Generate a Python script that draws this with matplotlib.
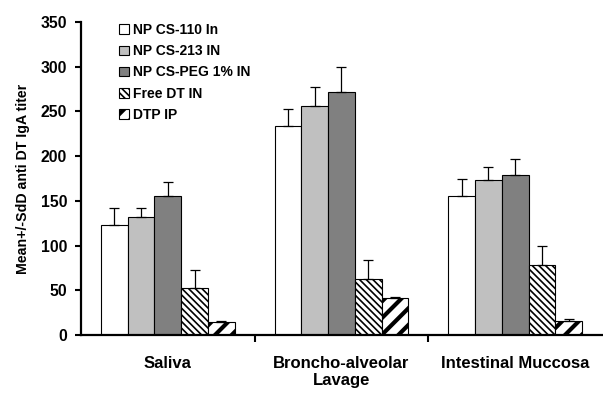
import matplotlib
matplotlib.use('Agg')
import matplotlib.pyplot as plt
import numpy as np

plt.rcParams['font.family'] = ['Liberation Sans', 'DejaVu Sans']
plt.rcParams['font.weight'] = 'bold'

categories = ['Saliva', 'Broncho-alveolar\nLavage', 'Intestinal Muccosa']
series = ['NP CS-110 In', 'NP CS-213 IN', 'NP CS-PEG 1% IN', 'Free DT IN', 'DTP IP']
cs110 = [123, 234, 155.5]
cs110_sd = [19, 19, 19.5]
cs213 = [131.5, 256, 173.5]
cs213_sd = [10.5, 21, 14.5]
cspeg = [155.5, 271.5, 178.5]
cspeg_sd = [15.5, 28.5, 18.5]
free_dt = [52.5, 63, 78.5]
free_dt_sd = [20.5, 21, 21]
dtp_ip = [14.5, 41, 15.5]
dtp_ip_sd = [1, 2, 2]

values = [cs110, cs213, cspeg, free_dt, dtp_ip]
sds = [cs110_sd, cs213_sd, cspeg_sd, free_dt_sd, dtp_ip_sd]
colors = ['white', '#C0C0C0', '#808080', 'white', 'white']
hatches = [None, None, None, '\\\\\\\\\\', '//']
hatch_lw = [1.0, 1.0, 1.0, 1.2, 3.0]

fig = plt.figure(figsize=(6.03, 3.94), dpi=100)
ax = fig.add_axes([81/603, 59/394, 521/603, 313/394])

x = np.arange(len(categories))
w = 0.154
handles = []
for i in range(5):
    plt.rcParams['hatch.linewidth'] = hatch_lw[i]
    pos = x + (i - 2) * w
    bars = ax.bar(pos, values[i], w, color=colors[i], edgecolor='black',
                  linewidth=0.8, hatch=hatches[i], label=series[i], zorder=2)
    handles.append(bars)
    ax.errorbar(pos, values[i], yerr=[np.zeros(3), sds[i]], fmt='none',
                ecolor='black', elinewidth=0.9, capsize=3.5, capthick=0.9, zorder=3)

ax.set_xlim(-0.5, 2.5)
ax.set_ylim(0, 350)
ax.set_yticks(range(0, 351, 50))
ax.set_xticks(x)
ax.set_xticklabels(categories, fontsize=12, fontweight='bold')
ax.set_xticks([0.5, 1.5], minor=True)
ax.tick_params(axis='x', which='major', length=0, pad=15)
ax.tick_params(axis='x', which='minor', length=5, width=1.5, direction='out')
ax.tick_params(axis='y', length=4.5, width=1.5, direction='out', labelsize=11.3, pad=5.5)
for lab in ax.get_yticklabels():
    lab.set_fontweight('bold')
ax.spines['top'].set_visible(False)
ax.spines['right'].set_visible(False)
ax.spines['left'].set_linewidth(1.6)
ax.spines['bottom'].set_linewidth(1.6)
ax.set_ylabel('Mean+/-SdD anti DT IgA titer', fontsize=10.2, fontweight='bold', labelpad=8)

plt.rcParams['hatch.linewidth'] = 1.0
leg = ax.legend(handles=handles, labels=series, loc='upper left',
                bbox_to_anchor=(119/603, 1 - 23/394), bbox_transform=fig.transFigure,
                frameon=False, borderpad=0, borderaxespad=0, handlelength=0.7,
                handleheight=0.7, handletextpad=0.3, labelspacing=0.52,
                prop={'size': 10, 'weight': 'bold'})
for p, lw in zip(leg.get_patches(), hatch_lw):
    if hasattr(p, 'set_hatch_linewidth'):
        p.set_hatch_linewidth(lw)

fig.savefig('out.png', dpi=100)
